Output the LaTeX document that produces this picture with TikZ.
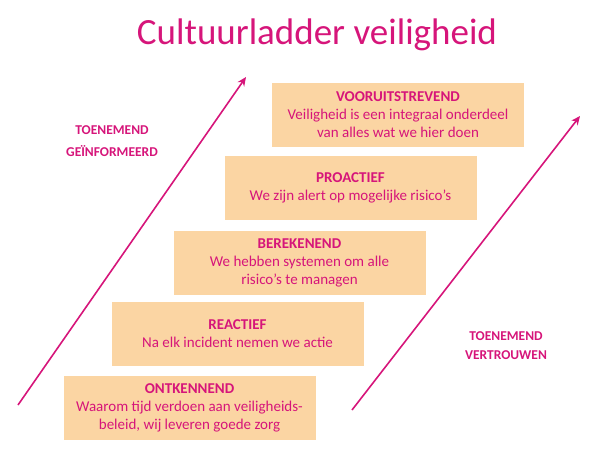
\documentclass[tikz,border=0pt]{standalone}
\usepackage{fontspec}
\setmainfont{Carlito}
\usetikzlibrary{arrows.meta}
\definecolor{mag}{HTML}{D6157A}
\definecolor{boxf}{HTML}{FBD5A3}
\begin{document}
\begin{tikzpicture}[x=1pt,y=-1pt,
  stepbox/.style={fill=boxf,draw=none,minimum width=252pt,minimum height=64pt,inner sep=0pt},
  txt/.style={text=mag,font=\fontsize{15}{18}\selectfont,align=center},
  arr/.style={draw=mag,line width=1.6pt,-{Stealth[length=9pt,width=8pt]}}]
\useasboundingbox (0,0) rectangle (600,450);
\node[text=mag,font=\fontsize{37}{42}\selectfont] (title) at (317,35) {Cultuurladder veiligheid};
\node[stepbox] (b1) at (398,115) {};
\node[stepbox] (b2) at (350.5,187.5) {};
\node[stepbox] (b3) at (299.5,262.5) {};
\node[stepbox] (b4) at (237.5,334) {};
\node[stepbox] (b5) at (189.5,407.5) {};
\node[txt] (t1) at (b1) {\textbf{VOORUITSTREVEND}\\Veiligheid is een integraal onderdeel\\van alles wat we hier doen};
\node[txt] (t2) at (b2) {\textbf{PROACTIEF}\\We zijn alert op mogelijke risico’s};
\node[txt] (t3) at (b3) {\textbf{BEREKENEND}\\We hebben systemen om alle\\risico’s te managen};
\node[txt] (t4) at (b4) {\textbf{REACTIEF}\\Na elk incident nemen we actie};
\node[txt] (t5) at (b5) {\textbf{ONTKENNEND}\\Waarom tijd verdoen aan veiligheids-\\beleid, wij leveren goede zorg};
\coordinate (a1s) at (18,405); \coordinate (a1e) at (246,77);
\coordinate (a2s) at (352,410); \coordinate (a2e) at (580,116);
\draw[arr] (a1s) -- (a1e);
\draw[arr] (a2s) -- (a2e);
\node[txt,font=\bfseries\fontsize{13.5}{22}\selectfont] (l1) at (112,141) {TOENEMEND\\GEÏNFORMEERD};
\node[txt,font=\bfseries\fontsize{13.5}{19}\selectfont] (l2) at (506,346) {TOENEMEND\\VERTROUWEN};
\end{tikzpicture}
\end{document}
